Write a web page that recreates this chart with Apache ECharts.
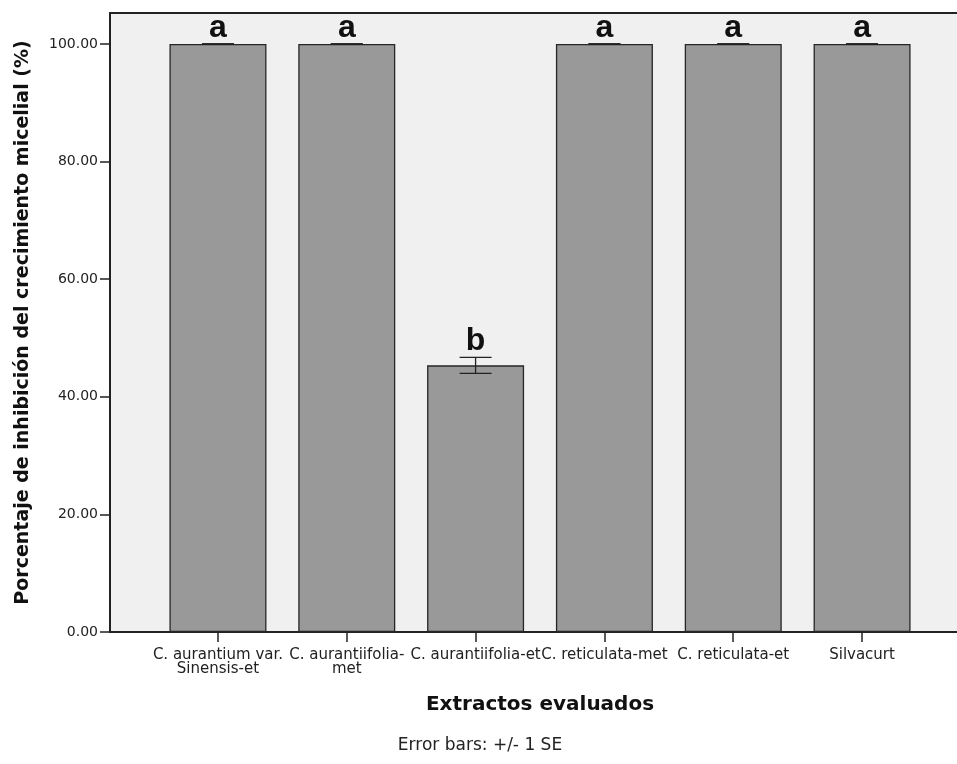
<!DOCTYPE html>
<html>
<head>
<meta charset="utf-8">
<script src="https://cdn.jsdelivr.net/npm/echarts@6/dist/echarts.min.js"></script>
<style>
  html, body { margin: 0; padding: 0; background: #ffffff; }
  #chart { width: 957px; height: 764px; }
</style>
</head>
<body>
<div id="chart"></div>
<script>
// Extract categories and the mean inhibition of mycelial growth (%)
const categories = [
  'C. aurantium var.\nSinensis-et',
  'C. aurantiifolia-\nmet',
  'C. aurantiifolia-et',
  'C. reticulata-met',
  'C. reticulata-et',
  'Silvacurt'
];
const meanValues = [100, 100, 45.35, 100, 100, 100];
const stdErrors = [0, 0, 1.36, 0, 0, 0];
const groupLetters = ['a', 'a', 'b', 'a', 'a', 'a'];
const yTicks = [0, 20, 40, 60, 80, 100];

const FONT = '"DejaVu Sans", Verdana, sans-serif';
const LETTER_FONT = '"Liberation Sans", Arial, sans-serif';
const catIndex = categories.map((_, i) => i);
const X_MIN = -0.838, X_MAX = 5.737;
const FRAME = { color: '#222', width: 2 };

const chart = echarts.init(document.getElementById('chart'), null, { renderer: 'canvas' });

chart.setOption({
  backgroundColor: '#ffffff',
  animation: false,
  title: [
    {
      text: 'Extractos evaluados',
      left: 540, top: 695, textAlign: 'center', padding: 0,
      textStyle: { fontFamily: FONT, fontSize: 20, fontWeight: 'bold', color: '#111' }
    },
    {
      text: 'Error bars: +/- 1 SE',
      left: 480, top: 737, textAlign: 'center', padding: 0,
      textStyle: { fontFamily: FONT, fontSize: 17, fontWeight: 'normal', color: '#222' }
    }
  ],
  grid: {
    left: 110, right: 0, top: 13, bottom: 132,
    show: true,
    backgroundColor: '#F0F0F0',
    borderWidth: 0
  },
  xAxis: [
    {
      type: 'value',
      min: X_MIN, max: X_MAX,
      axisLine: { show: true, onZero: false, lineStyle: FRAME },
      axisTick: { show: true, length: 10, inside: false, customValues: catIndex, lineStyle: { color: '#222', width: 1.5 } },
      splitLine: { show: false },
      axisLabel: {
        customValues: catIndex,
        margin: 16,
        fontFamily: FONT, fontSize: 15, color: '#222', lineHeight: 14,
        formatter: v => categories[Math.round(v)] || ''
      }
    },
    {
      // top frame line of the plot area
      type: 'value', position: 'top',
      min: X_MIN, max: X_MAX,
      axisLine: { show: true, onZero: false, lineStyle: FRAME },
      axisTick: { show: false }, axisLabel: { show: false }, splitLine: { show: false }
    }
  ],
  yAxis: {
    type: 'value',
    min: 0, max: 105.27, interval: 20,
    name: 'Porcentaje de inhibición del crecimiento micelial (%)',
    nameLocation: 'middle',
    nameGap: 77,
    nameTextStyle: { fontFamily: FONT, fontSize: 19, fontWeight: 'bold', color: '#111' },
    axisLine: { show: true, onZero: false, lineStyle: FRAME },
    axisTick: { show: true, length: 10, inside: false, customValues: yTicks, lineStyle: { color: '#222', width: 1.5 } },
    splitLine: { show: false },
    axisLabel: {
      customValues: yTicks,
      margin: 12,
      fontFamily: FONT, fontSize: 14, color: '#222',
      formatter: v => v.toFixed(2)
    }
  },
  series: [
    {
      type: 'bar',
      barWidth: 97,
      data: meanValues.map((v, i) => [i, v]),
      itemStyle: { color: '#999999', borderColor: '#262626', borderWidth: 1.3 }
    },
    {
      // ±1 SE whiskers with the group letter above each one
      type: 'custom',
      data: meanValues.map((v, i) => [i, v, stdErrors[i]]),
      z: 5,
      renderItem: (params, api) => {
        const i = api.value(0);
        const m = api.value(1);
        const se = api.value(2);
        const letter = groupLetters[params.dataIndex];
        const hi = api.coord([i, m + se]);
        const lo = api.coord([i, m - se]);
        const half = 16;
        const stroke = { stroke: '#222', lineWidth: 1.3 };
        return {
          type: 'group',
          children: [
            { type: 'line', shape: { x1: hi[0], y1: hi[1], x2: lo[0], y2: lo[1] }, style: stroke },
            { type: 'line', shape: { x1: hi[0] - half, y1: hi[1], x2: hi[0] + half, y2: hi[1] }, style: stroke },
            { type: 'line', shape: { x1: lo[0] - half, y1: lo[1], x2: lo[0] + half, y2: lo[1] }, style: stroke },
            {
              type: 'text',
              style: {
                text: letter, x: hi[0], y: hi[1],
                align: 'center', verticalAlign: 'bottom',
                font: 'bold 32px ' + LETTER_FONT, fill: '#111'
              }
            }
          ]
        };
      }
    }
  ]
});
</script>
</body>
</html>
